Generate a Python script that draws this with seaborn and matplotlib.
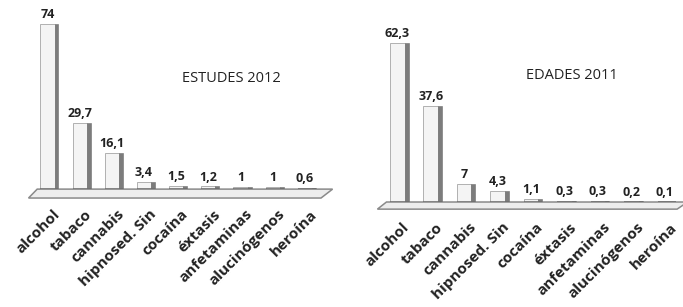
import matplotlib
matplotlib.use("Agg")
import matplotlib.pyplot as plt
import matplotlib.transforms as mtransforms
import seaborn as sns
import pandas as pd
from matplotlib.patches import Polygon, Rectangle

categories = ["alcohol", "tabaco", "cannabis", "hipnosed. Sin", "cocaína",
              "éxtasis", "anfetaminas", "alucinógenos", "heroína"]
estudes_2012 = [74, 29.7, 16.1, 3.4, 1.5, 1.2, 1, 1, 0.6]
edades_2011 = [62.3, 37.6, 7, 4.3, 1.1, 0.3, 0.3, 0.2, 0.1]
titles = ["ESTUDES 2012", "EDADES 2011"]

sns.set_theme(style="white")
plt.rcParams['font.family'] = ['Open Sans', 'DejaVu Sans']

fig = plt.figure(figsize=(6.83, 3.07), dpi=100)
ax1 = fig.add_axes([0.046, 0.384, 0.424, 0.581])
ax2 = fig.add_axes([0.557, 0.342, 0.441, 0.581])

def fmt(v):
    return f"{v:g}".replace('.', ',')

def draw(ax, vals, title, ymax, title_pos, floor_pts):
    df = pd.DataFrame({"cat": categories, "val": vals})
    sns.barplot(data=df, x="cat", y="val", ax=ax, color="#f4f4f4",
                edgecolor="#b0b0b0", linewidth=0.7, width=0.44, saturation=1)
    ax.set_xlim(-0.5, 8.5)
    ax.set_ylim(0, ymax)
    floor = Polygon(floor_pts, closed=True, transform=ax.transAxes,
                    facecolor="#ededed", edgecolor="#8a8a8a", linewidth=1.1,
                    clip_on=False, zorder=0.5)
    ax.add_patch(floor)
    bars = [p for p in ax.patches if isinstance(p, Rectangle) and p is not floor]
    for p in bars:
        x0 = p.get_x() + p.get_width()
        side = Rectangle((x0, p.get_y()), 0.12, p.get_height(),
                         facecolor="#7c7c7c", edgecolor="#6e6e6e",
                         linewidth=0.4, zorder=p.get_zorder())
        ax.add_patch(side)
        base = Rectangle((p.get_x(), p.get_y()), p.get_width() + 0.12,
                         0, edgecolor="#6e6e6e", linewidth=1.2,
                         facecolor="none", zorder=p.get_zorder() + 0.1)
        ax.add_patch(base)
    labels = [fmt(v) for v in vals]
    ax.bar_label(ax.containers[0], labels=labels, padding=2, fontsize=9,
                 fontweight="bold", color="#222222")
    ax.set_xlabel("")
    ax.set_ylabel("")
    ax.set_yticks([])
    ax.set_xticks(range(len(categories)))
    ax.set_xticklabels(categories, rotation=45, ha="right", rotation_mode="anchor",
                       fontsize=11, fontweight="bold", color="#222222")
    ax.tick_params(axis="x", length=0, pad=13)
    offset = mtransforms.ScaledTranslation(5 / 100, 0, fig.dpi_scale_trans)
    for lab in ax.get_xticklabels():
        lab.set_transform(lab.get_transform() + offset)
    for s in ax.spines.values():
        s.set_visible(False)
    ax.text(title_pos[0], title_pos[1], title, transform=ax.transAxes,
            ha="center", va="center", fontsize=10.5, color="#222222")

draw(ax1, estudes_2012, titles[0], 80, (0.69, 0.62),
     [[-0.01, -0.05], [1.0, -0.05], [1.04, 0.0], [0.02, 0.0]])
draw(ax2, edades_2011, titles[1], 70, (0.637, 0.71),
     [[-0.01, -0.04], [0.985, -0.04], [1.02, 0.0], [0.02, 0.0]])

fig.savefig("out.png", dpi=100)
